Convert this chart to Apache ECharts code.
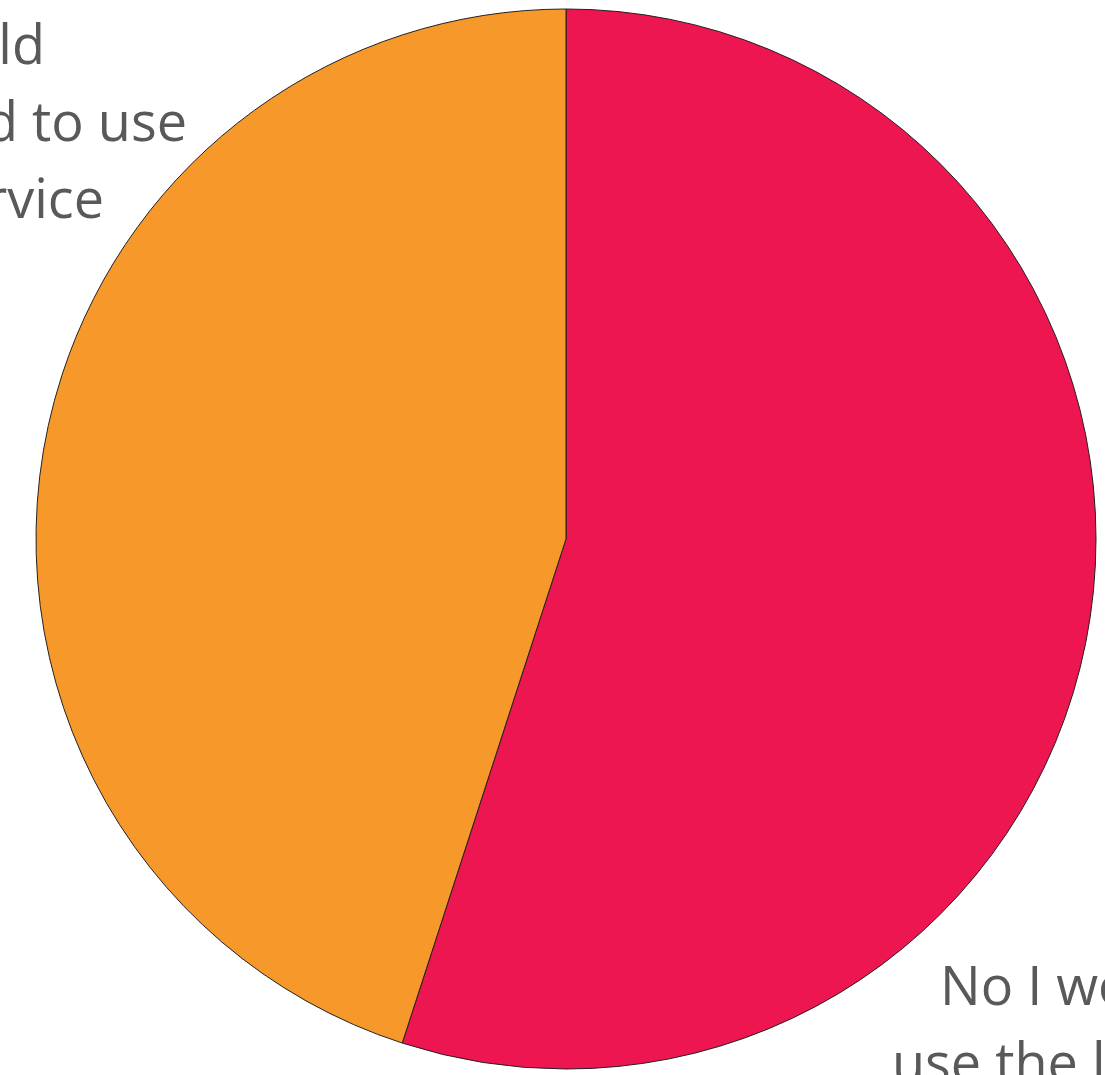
<!DOCTYPE html>
<html>
<head>
<meta charset="utf-8">
<script src="https://cdn.jsdelivr.net/npm/echarts@6/dist/echarts.min.js"></script>
<style>html,body{margin:0;padding:0;background:#fff;}#c{width:1105px;height:1075px;}</style>
</head>
<body>
<div id="c"></div>
<script>
const categories = ["No I would not use the library", "Yes I would be prepared to use this service"];
const values = [55, 45];
const colors = ["#EE1651", "#F7992A"];

const chart = echarts.init(document.getElementById('c'));
const labelFont = { fontFamily: 'Open Sans', fontSize: 54, color: '#58595B', lineHeight: 77 };
chart.setOption({
  animation: false,
  series: [{
    type: 'pie',
    center: [566, 539],
    radius: 530,
    startAngle: 90,
    clockwise: true,
    avoidLabelOverlap: false,
    itemStyle: { borderColor: '#231F20', borderWidth: 1 },
    labelLine: { show: false },
    label: {
      show: true,
      position: 'outside',
      ...labelFont,
      formatter: function (p) {
        if (p.dataIndex === 1) return '{a|Yes I would}\n{b|be prepared to use}\n{c|this service}';
        return '{a|No I would not}\n{b|use the library}';
      }
    },
    labelLayout: function (p) {
      if (p.dataIndex === 1) {
        return { x: 187, y: 10, align: 'right', verticalAlign: 'top' };
      }
      return { x: 892, y: 951, align: 'left', verticalAlign: 'top' };
    },
    data: categories.map((c, i) => ({
      name: c, value: values[i],
      itemStyle: { color: colors[i] },
      label: i === 1 ? {
        rich: {
          a: { ...labelFont, padding: [0, 142, 0, 0] },
          b: { ...labelFont },
          c: { ...labelFont, padding: [0, 83, 0, 0] }
        }
      } : {
        rich: {
          a: { ...labelFont, padding: [0, 0, 0, 48] },
          b: { ...labelFont },
          c: { ...labelFont }
        }
      }
    }))
  }]
});
</script>
</body>
</html>
